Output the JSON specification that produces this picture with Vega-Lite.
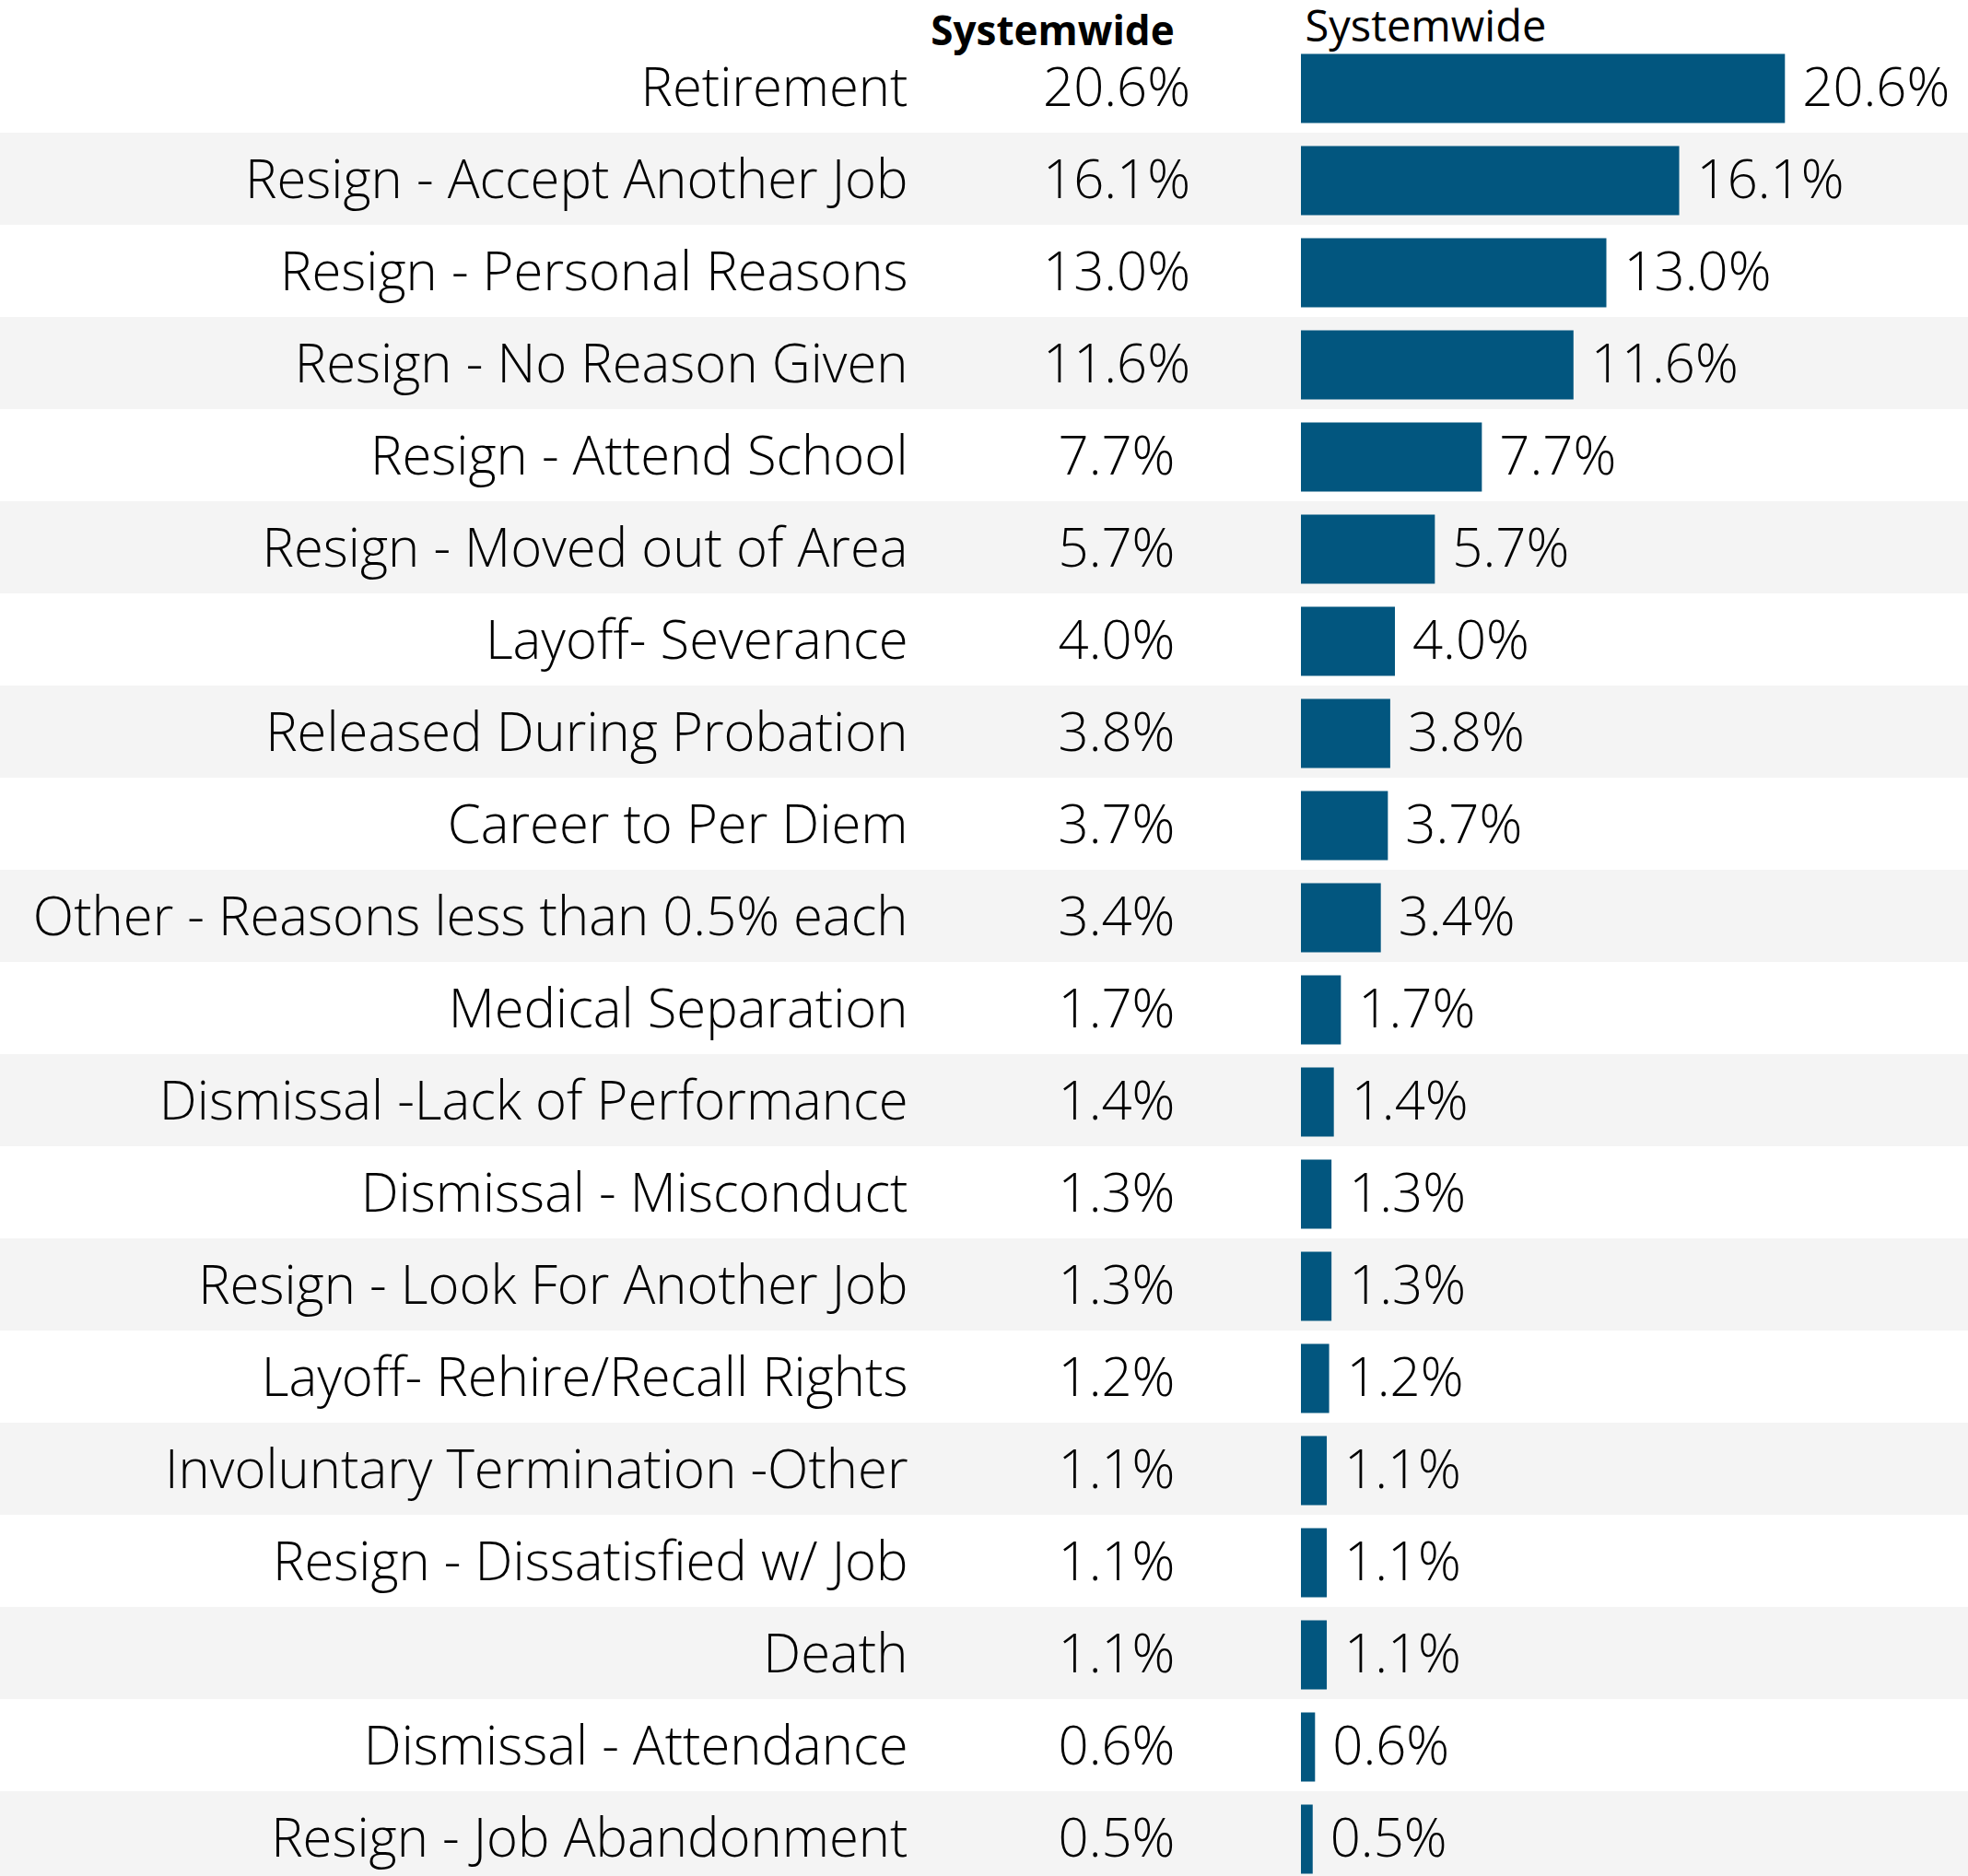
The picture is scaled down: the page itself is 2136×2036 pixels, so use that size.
{
  "$schema": "https://vega.github.io/schema/vega-lite/v6.json",
  "width": 2136,
  "height": 1992,
  "padding": {"top": 44, "left": 0, "right": 0, "bottom": 0},
  "autosize": {"type": "none"},
  "background": "#ffffff",
  "config": {"view": {"stroke": null}, "font": "Open Sans", "text": {"font": "Open Sans"}},
  "data": {"values": [
    {"reason": "Retirement", "pct": 0.206},
    {"reason": "Resign - Accept Another Job", "pct": 0.161},
    {"reason": "Resign - Personal Reasons", "pct": 0.130},
    {"reason": "Resign - No Reason Given", "pct": 0.116},
    {"reason": "Resign - Attend School", "pct": 0.077},
    {"reason": "Resign - Moved out of Area", "pct": 0.057},
    {"reason": "Layoff- Severance", "pct": 0.040},
    {"reason": "Released During Probation", "pct": 0.038},
    {"reason": "Career to Per Diem", "pct": 0.037},
    {"reason": "Other - Reasons less than 0.5% each", "pct": 0.034},
    {"reason": "Medical Separation", "pct": 0.017},
    {"reason": "Dismissal -Lack of Performance", "pct": 0.014},
    {"reason": "Dismissal - Misconduct", "pct": 0.013},
    {"reason": "Resign - Look For Another Job", "pct": 0.013},
    {"reason": "Layoff- Rehire/Recall Rights", "pct": 0.012},
    {"reason": "Involuntary Termination -Other", "pct": 0.011},
    {"reason": "Resign - Dissatisfied w/ Job", "pct": 0.011},
    {"reason": "Death", "pct": 0.011},
    {"reason": "Dismissal - Attendance", "pct": 0.006},
    {"reason": "Resign - Job Abandonment", "pct": 0.005}
  ]},
  "transform": [{"window": [{"op": "row_number", "as": "rank"}]}],
  "encoding": {
    "y": {
      "field": "reason",
      "type": "nominal",
      "sort": null,
      "scale": {"range": [0, 2000], "paddingInner": 0, "paddingOuter": 0},
      "axis": {
        "orient": "left",
        "offset": -985,
        "title": null,
        "domain": false,
        "ticks": false,
        "tickSize": 0,
        "grid": false,
        "labelPadding": 0,
        "labelOffset": 4,
        "labelAlign": "right",
        "labelBaseline": "middle",
        "labelFont": "Open Sans",
        "labelFontWeight": 300,
        "labelFontSize": 58,
        "labelColor": "#000000",
        "labelLimit": 2000,
        "zindex": 1
      }
    }
  },
  "layer": [
    {
      "mark": {"type": "rect"},
      "encoding": {
        "color": {"condition": {"test": "datum.rank % 2 === 0", "value": "#f4f4f4"}, "value": "#ffffff"}
      }
    },
    {
      "mark": {"type": "text", "fontSize": 58, "fontWeight": 300, "align": "center", "baseline": "middle", "dy": 4, "color": "#000000"},
      "encoding": {
        "x": {
          "datum": "Systemwide",
          "type": "nominal",
          "scale": {"type": "point", "range": [1012, 1412], "padding": 0.5},
          "axis": {
            "orient": "top",
            "title": null,
            "domain": false,
            "ticks": false,
            "tickSize": 0,
            "grid": false,
            "labelAngle": 0,
            "labelFont": "Open Sans",
            "labelFontWeight": "bold",
            "labelFontSize": 44,
            "labelOffset": -70,
            "labelPadding": -4,
            "labelAlign": "center",
            "labelBaseline": "alphabetic",
            "labelColor": "#000000",
            "labelLimit": 1000,
            "labelOverlap": false,
            "zindex": 1
          }
        },
        "text": {"field": "pct", "type": "quantitative", "format": ".1%"}
      }
    },
    {
      "layer": [
        {
          "mark": {"type": "bar", "color": "#02567f", "height": {"band": 0.75}, "yOffset": 2},
          "encoding": {
            "x": {
              "field": "pct",
              "type": "quantitative",
              "scale": {"domain": [0, 0.206], "range": [1412, 1937.3], "nice": false, "zero": true},
              "axis": {
                "orient": "top",
                "title": "Systemwide",
                "labels": false,
                "ticks": false,
                "domain": false,
                "grid": false,
                "titleFont": "Open Sans",
                "titleFontSize": 47,
                "titleFontWeight": "normal",
                "titleX": 1416,
                "titleY": 0,
                "titleAlign": "left",
                "titleAnchor": "start",
                "titleBaseline": "alphabetic",
                "titleColor": "#000000",
                "titleLimit": 1000,
                "zindex": 1
              }
            }
          }
        },
        {
          "mark": {"type": "text", "align": "left", "baseline": "middle", "dx": 19, "dy": 4, "fontSize": 58, "fontWeight": 300, "color": "#000000"},
          "encoding": {
            "x": {"field": "pct", "type": "quantitative"},
            "text": {"field": "pct", "type": "quantitative", "format": ".1%"}
          }
        }
      ]
    }
  ],
  "resolve": {"scale": {"x": "independent"}, "axis": {"x": "independent"}}
}
